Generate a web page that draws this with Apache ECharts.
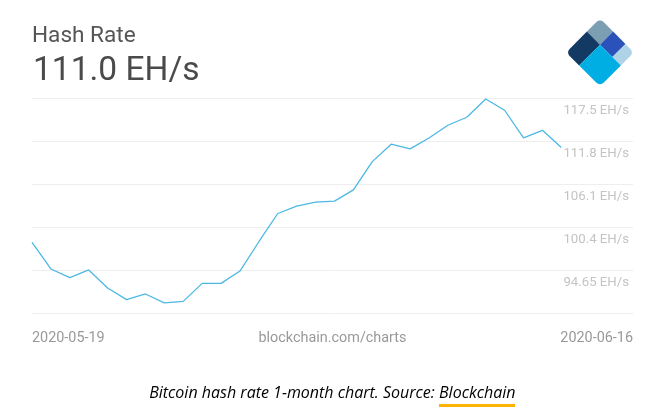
<!DOCTYPE html>
<html>
<head>
<meta charset="utf-8">
<title>Hash Rate</title>
<script src="https://cdn.jsdelivr.net/npm/echarts@6/dist/echarts.min.js"></script>
<style>
	html, body { margin: 0; padding: 0; background: #fff; }
	#chart { width: 662px; height: 416px; }
</style>
</head>
<body>
<div id="chart"></div>
<script>
/*
* 数据
*/
var dates = ['2020-05-19','2020-05-20','2020-05-21','2020-05-22','2020-05-23','2020-05-24','2020-05-25',
	'2020-05-26','2020-05-27','2020-05-28','2020-05-29','2020-05-30','2020-05-31','2020-06-01','2020-06-02',
	'2020-06-03','2020-06-04','2020-06-05','2020-06-06','2020-06-07','2020-06-08','2020-06-09','2020-06-10',
	'2020-06-11','2020-06-12','2020-06-13','2020-06-14','2020-06-15','2020-06-16'];
var hashRate = [98.38,94.86,93.71,94.73,92.34,90.79,91.54,90.35,90.56,92.95,92.95,94.59,98.48,102.23,103.21,
	103.74,103.87,105.37,109.12,111.43,110.81,112.26,113.95,115.01,117.43,115.94,112.26,113.28,110.98];
var tickValues = [94.65,100.4,106.1,111.8,117.5];
var axisMin = 88.95;
var axisMax = 117.5;
var axisEndDate = '2020-06-19 19:00';

/*
* 文字
*/
var titleText = 'Hash Rate';
var currentText = '111.0 EH/s';
var sourceText = 'blockchain.com/charts';
var captionText = 'Bitcoin hash rate 1-month chart. Source: ';
var captionLink = 'Blockchain';

var seriesData = [];
for(var i = 0; i < dates.length; i++){
	seriesData.push([dates[i], hashRate[i]]);
}

/*
* logo 由旋转的圆角矩形拼成
*/
var logoRect = function(x, y, w, h, r, color){
	return {
		type: 'rect',
		shape: { x: x, y: y, width: w, height: h, r: r },
		style: { fill: color }
	};
};

var chart = echarts.init(document.getElementById('chart'));
var option = {
	animation: false,
	backgroundColor: '#fff',
	grid: { left: 32, right: 29, top: 98.5, height: 215 },
	xAxis: {
		type: 'time',
		min: dates[0],
		max: axisEndDate,
		axisLine: { show: true, lineStyle: { color: '#eeeeee', width: 1 } },
		axisTick: { show: false },
		axisLabel: { show: false },
		splitLine: { show: false }
	},
	yAxis: {
		type: 'value',
		position: 'right',
		min: axisMin,
		max: axisMax,
		axisLine: { show: false },
		axisTick: { show: false, customValues: tickValues },
		axisLabel: {
			inside: true,
			customValues: tickValues,
			margin: 4,
			verticalAlign: 'top',
			padding: [6, 0, 0, 0],
			color: '#c4c4c4',
			fontFamily: 'Roboto',
			fontSize: 13.2,
			formatter: function(v){ return v + ' EH/s'; }
		},
		splitLine: { show: true, lineStyle: { color: '#eeeeee', width: 1 } }
	},
	series: [
		{
			type: 'line',
			data: seriesData,
			showSymbol: false,
			smooth: false,
			lineStyle: { color: '#4db8e4', width: 1.3 }
		}
	],
	graphic: [
		{ type: 'text', x: 32, y: 36, style: { text: titleText, font: '22.6px Roboto', fill: '#555', textVerticalAlign: 'middle' } },
		{ type: 'text', x: 33, y: 72, style: { text: currentText, font: '33.5px Roboto', fill: '#4a4a4a', textVerticalAlign: 'middle' } },
		{ type: 'text', x: 32, y: 338, style: { text: dates[0], font: '14.4px Roboto', fill: '#999', textVerticalAlign: 'middle' } },
		{ type: 'text', x: 332.5, y: 338, style: { text: sourceText, font: '14.4px Roboto', fill: '#999', textAlign: 'center', textVerticalAlign: 'middle' } },
		{ type: 'text', x: 633, y: 338, style: { text: dates[dates.length - 1], font: '14.4px Roboto', fill: '#999', textAlign: 'right', textVerticalAlign: 'middle' } },
		{ type: 'text', x: 439, y: 393.5, style: { text: captionText, font: 'italic 16px "Open Sans"', fill: '#000', textAlign: 'right', textVerticalAlign: 'middle' } },
		{ type: 'text', x: 439, y: 393.5, style: { text: captionLink, font: 'italic 16px "Open Sans"', fill: '#000', textVerticalAlign: 'middle' } },
		{ type: 'rect', shape: { x: 439, y: 404, width: 76, height: 3 }, style: { fill: '#fcb400' } },
		{
			type: 'group',
			x: 600,
			y: 18.5,
			rotation: -Math.PI / 4,
			children: [
				logoRect(0, 0, 18.5, 18.5, [5, 0, 0, 0], '#7c9eb2'),
				logoRect(18.5, 0, 17.5, 18.5, 0, '#2b52bb'),
				logoRect(36, 0, 12, 18.5, [0, 5, 0, 0], '#aed3e6'),
				logoRect(0, 18.5, 18.5, 29.5, [0, 0, 0, 5], '#123a63'),
				logoRect(18.5, 18.5, 29.5, 29.5, [0, 0, 5, 0], '#00aee4')
			]
		}
	]
};
chart.setOption(option);

window.onresize = function(){
	chart.resize();
}
</script>
</body>
</html>
